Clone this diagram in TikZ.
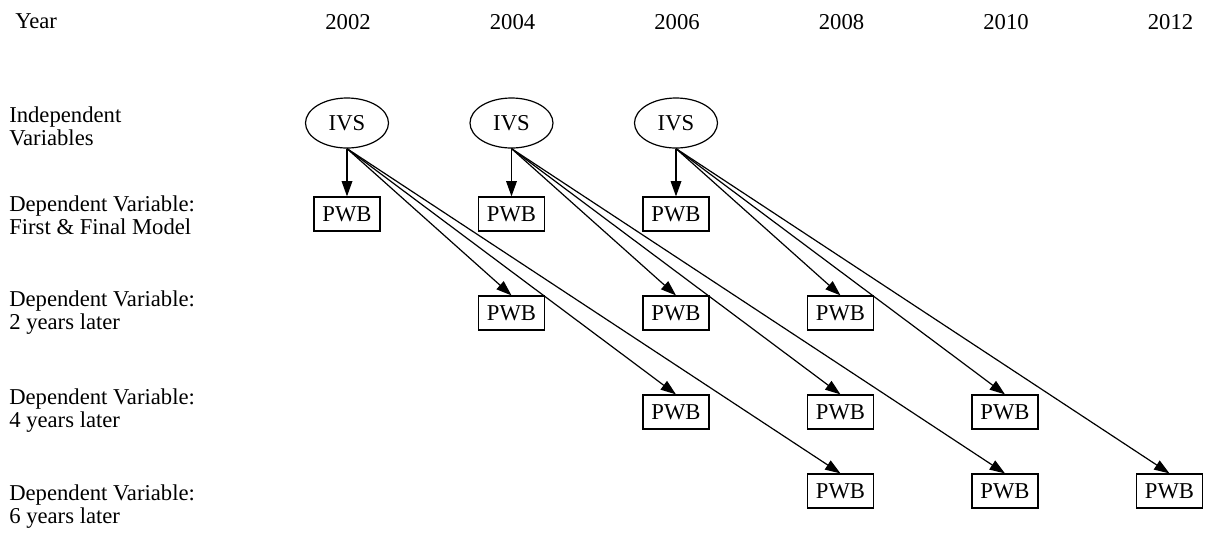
\documentclass[tikz,border=0pt]{standalone}
\usepackage{fontspec}
\setmainfont{Liberation Serif}
\usetikzlibrary{arrows.meta,shapes.geometric}

\begin{document}
\begin{tikzpicture}[x=0.75pt, y=-0.75pt, font=\fontsize{17}{17.25}\selectfont,
  ivs/.style={draw, ellipse, line width=0.9pt, minimum width=62.25pt, minimum height=37.5pt, inner sep=0pt},
  pwb/.style={draw, rectangle, line width=0.9pt, minimum width=49.5pt, minimum height=25.5pt, inner sep=0pt},
  rowlabel/.style={anchor=west, align=left, inner sep=0pt},
  link/.style={-{Triangle[length=11.5pt, width=8pt]}, line width=0.9pt}]
  \useasboundingbox (0,0) rectangle (1207,537);

  \node[rowlabel] (year) at (15,21) {Year};
  \foreach \k/\yr in {0/2002,1/2004,2/2006,3/2008,4/2010,5/2012}
    \node (yr\yr) at ({348+164.5*\k},22) {\yr};

  \foreach \n/\ly/\txt in {indep/126/{Independent\\Variables},
      dep0/215/{Dependent Variable:\\First \& Final Model},
      dep1/313/{Dependent Variable:\\2 years later},
      dep2/411/{Dependent Variable:\\4 years later},
      dep3/507/{Dependent Variable:\\6 years later}}
    \node[rowlabel] (\n) at (9,\ly) {\txt};

  \foreach \k in {0,1,2} {
    \node[ivs] (ivs\k) at ({347+164.5*\k},123) {IVS};
    \foreach \r/\ry in {0/214,1/313,2/412,3/491} {
      \node[pwb] (pwb\k\r) at ({347+164.5*(\k+\r)},\ry) {PWB};
      \draw[link] (ivs\k.south) -- (pwb\k\r.north);
    }
  }
\end{tikzpicture}
\end{document}
